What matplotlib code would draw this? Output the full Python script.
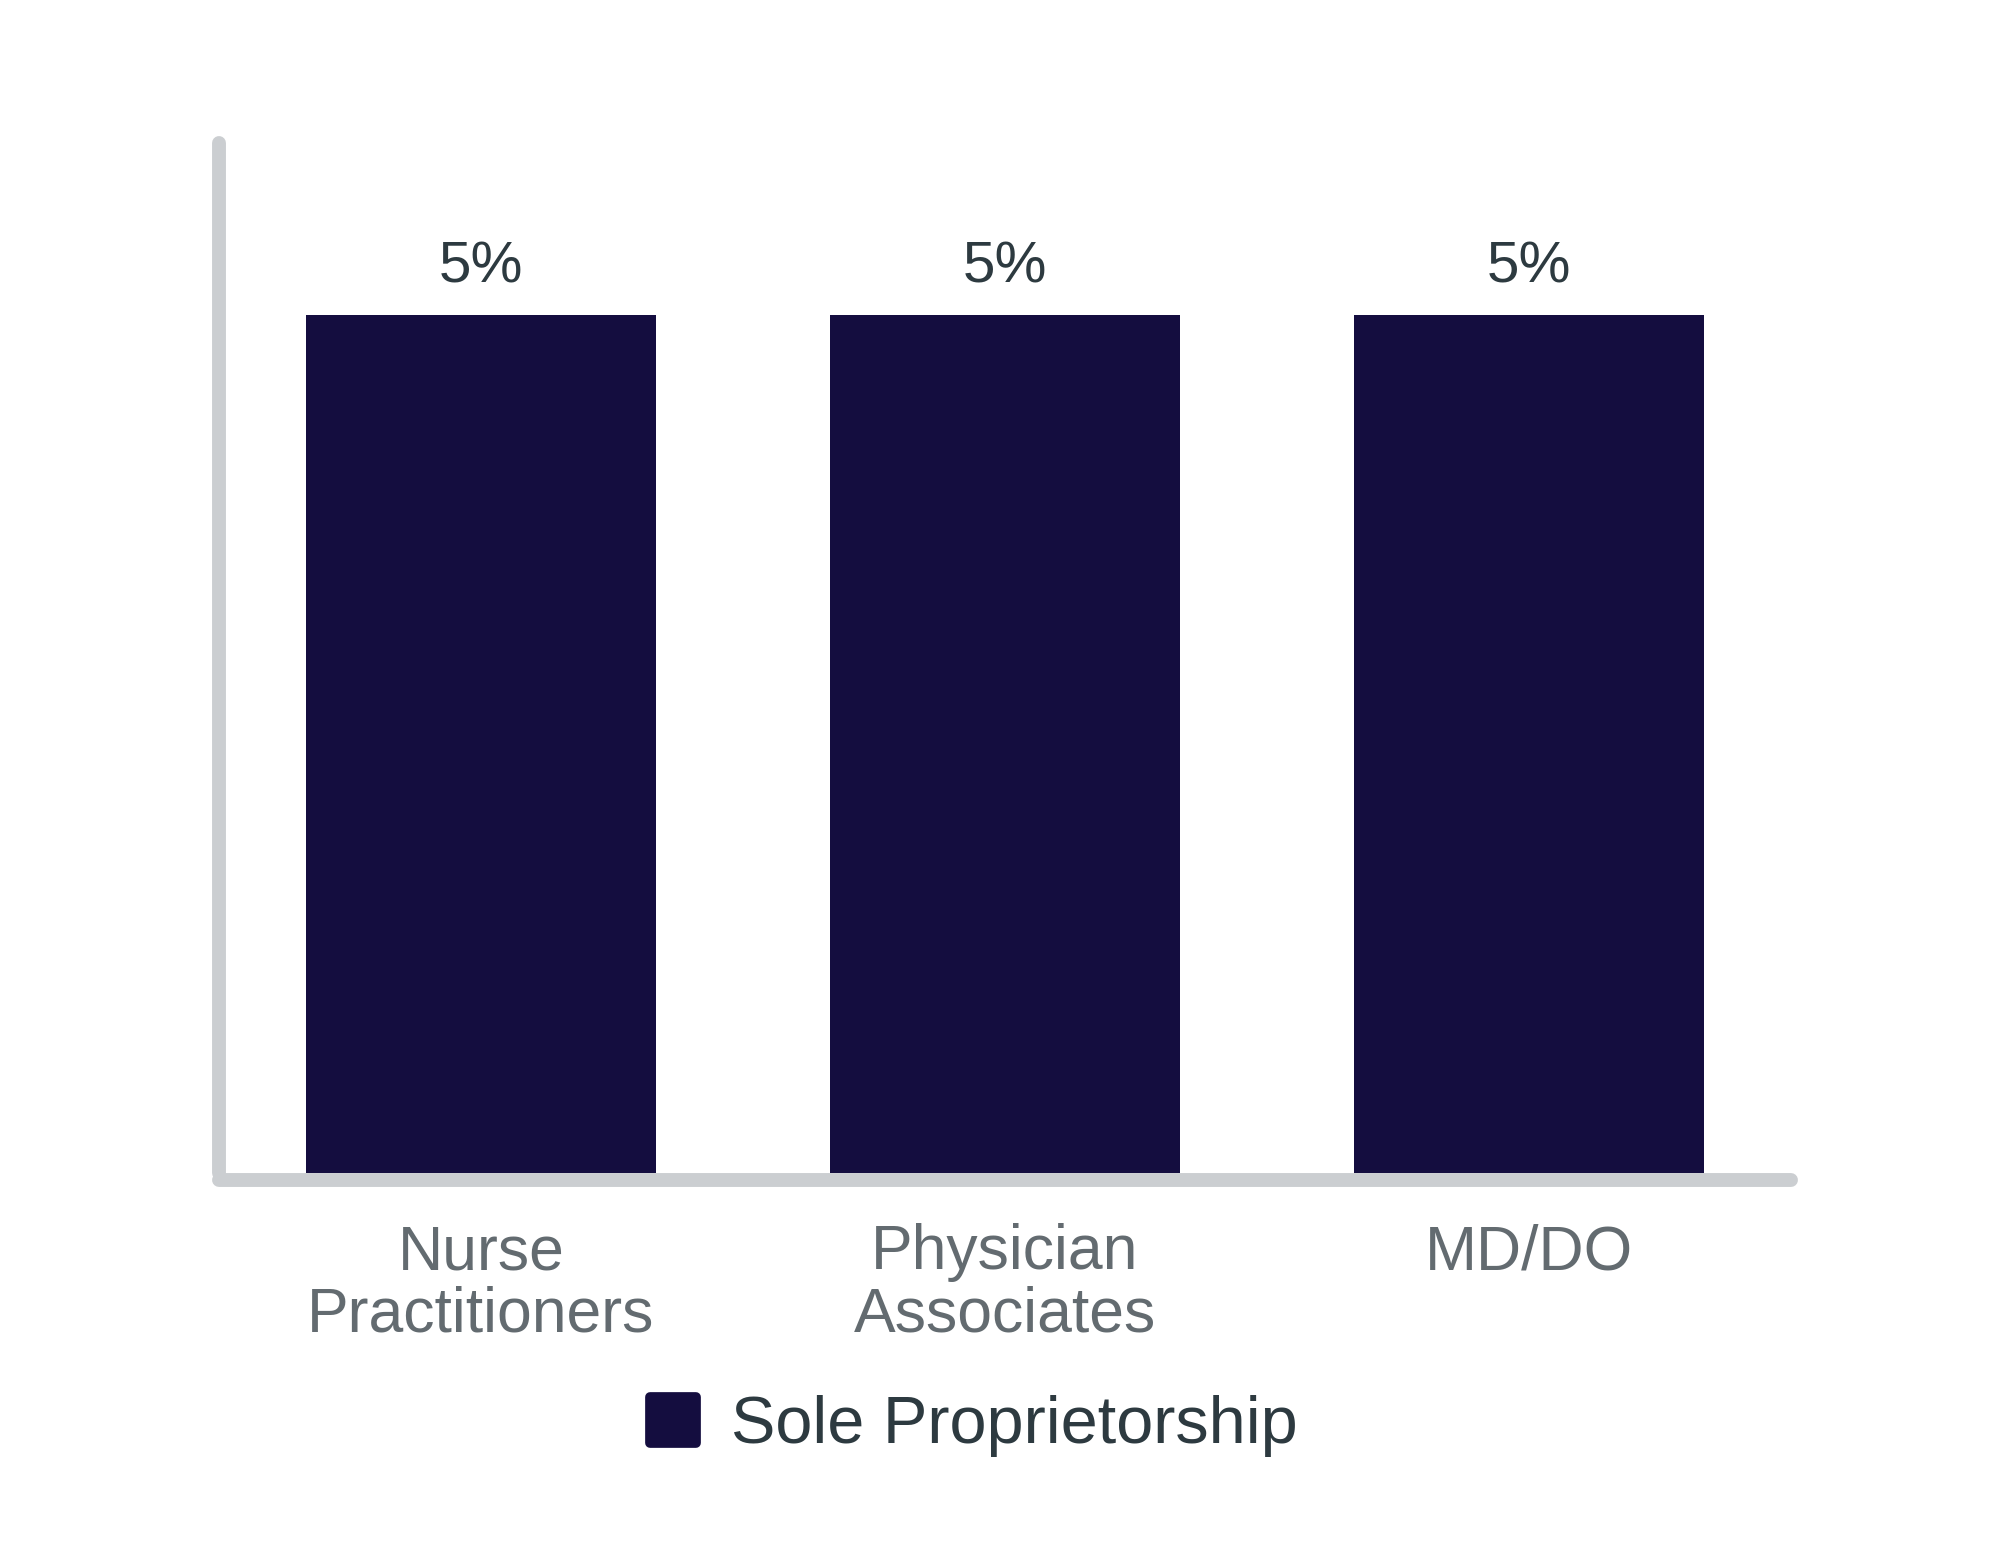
import matplotlib.pyplot as plt
from matplotlib.lines import Line2D
from matplotlib.markers import MarkerStyle

# data
categories = ['Nurse\nPractitioners', 'Physician\nAssociates', 'MD/DO']
sole_prop = [5, 5, 5]
value_labels = ['5%', '5%', '5%']
series_name = 'Sole Proprietorship'

bar_color = '#140d3f'
axis_color = '#cbced1'
label_color = '#2d3a40'
tick_color = '#636b70'

plt.rcParams['font.family'] = ['Liberation Sans', 'DejaVu Sans']

fig = plt.figure(figsize=(20, 15.42), dpi=100)
ax = fig.add_axes([0.1095, 1 - 1173 / 1542, 0.786, (1173 - 143) / 1542])

x = list(range(len(categories)))
ax.bar(x, sole_prop, width=0.667, color=bar_color)

for xi, v, lab in zip(x, sole_prop, value_labels):
    ax.annotate(lab, (xi, v), xytext=(0, 23), textcoords='offset points',
                ha='center', va='baseline', fontsize=42, color=label_color)

ax.set_xlim(-0.5, 2.5)
ax.set_ylim(0, 6)

# axis lines
for side in ['top', 'right']:
    ax.spines[side].set_visible(False)
for side in ['left', 'bottom']:
    ax.spines[side].set_color(axis_color)
    ax.spines[side].set_linewidth(10)
    ax.spines[side].set_capstyle('round')
ax.spines['bottom'].set_position(('outward', 5))

ax.set_yticks([])
ax.set_xticks(x)
ax.set_xticklabels(categories, fontsize=45, color=tick_color, linespacing=1.08)
ax.tick_params(axis='x', length=0, pad=31)

# legend with rounded square
handle = Line2D([], [], linestyle='none',
                marker=MarkerStyle('s', joinstyle='round'),
                markersize=33, markerfacecolor=bar_color,
                markeredgecolor=bar_color, markeredgewidth=7)
leg = fig.legend([handle], [series_name], loc='center',
                 bbox_to_anchor=(0.4855, 1 - 1426 / 1542), frameon=False,
                 fontsize=48, handlelength=0.85, handletextpad=0.45,
                 borderpad=0)
for t in leg.get_texts():
    t.set_color(label_color)

fig.savefig('out.png', dpi=100)
